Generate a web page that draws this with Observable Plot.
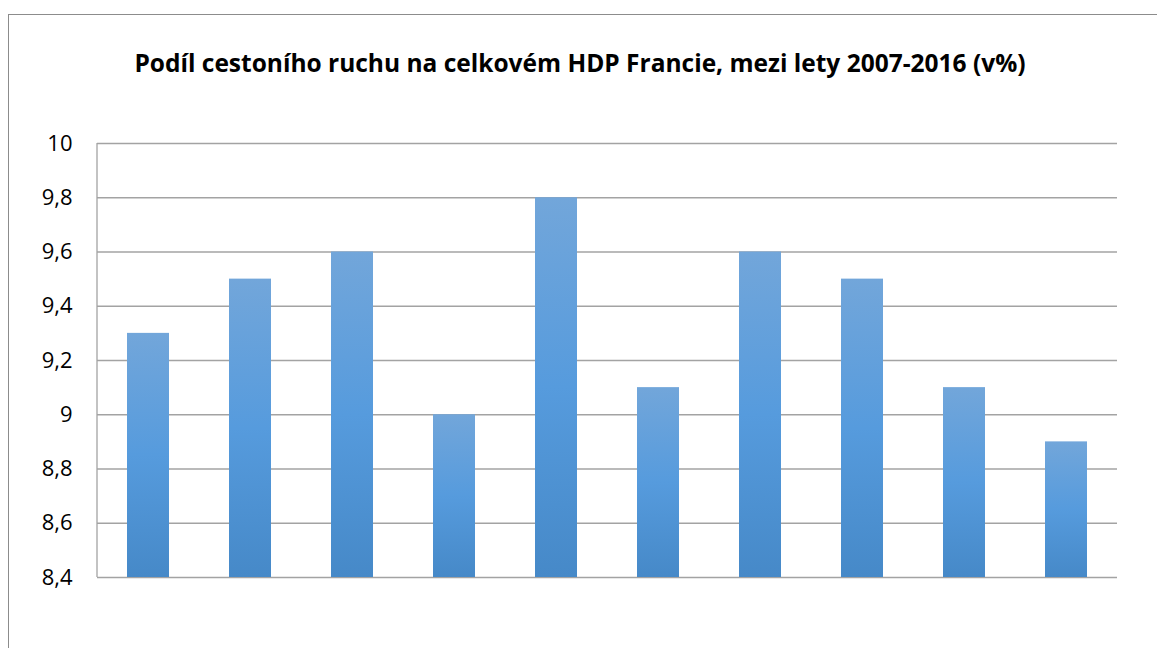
<!DOCTYPE html>
<html>
<head>
<meta charset="utf-8">
<script src="https://cdn.jsdelivr.net/npm/d3@7"></script>
<script src="https://cdn.jsdelivr.net/npm/@observablehq/plot@0.6"></script>
<style>
  html, body { margin: 0; padding: 0; background: #fff; }
  #wrap { position: relative; width: 1157px; height: 648px; overflow: hidden; }
  #frame { position: absolute; left: 8px; top: 14px; width: 1200px; height: 700px; border: 1px solid #8c8c8c; box-sizing: border-box; }
  #title { position: absolute; left: 0; width: 1160px; top: 46px; text-align: center; font-family: "Open Sans", sans-serif; font-weight: bold; font-size: 24.5px; color: #000; }
  #chart { position: absolute; left: 0; top: 0; }
</style>
</head>
<body>
<div id="wrap">
  <div id="frame"></div>
  <div id="title">Podíl cestoního ruchu na celkovém HDP Francie, mezi lety 2007-2016 (v%)</div>
  <div id="chart"></div>
</div>
<script>
const years = ["2007", "2008", "2009", "2010", "2011", "2012", "2013", "2014", "2015", "2016"];
const values = [9.3, 9.5, 9.6, 9.0, 9.8, 9.1, 9.6, 9.5, 9.1, 8.9];
const yTicks = [8.4, 8.6, 8.8, 9.0, 9.2, 9.4, 9.6, 9.8, 10];
const yMin = 8.4, yMax = 10;

const data = years.map((y, i) => ({year: y, value: values[i]}));
const fmt = v => (Math.round(v * 10) / 10).toString().replace(".", ",");
const ns = "http://www.w3.org/2000/svg";

const plot = Plot.plot({
  width: 1157,
  height: 648,
  marginLeft: 97,
  marginRight: 40,
  marginTop: 143,
  marginBottom: 71,
  style: { fontFamily: "'Open Sans', sans-serif", fontSize: "22px", color: "#000", background: "transparent" },
  x: { domain: years, paddingInner: 0.59, paddingOuter: 0.295, axis: null },
  y: { domain: [yMin, yMax], ticks: yTicks, tickFormat: fmt, label: null, tickSize: 0, tickPadding: 25 },
  marks: [
    () => {
      const defs = document.createElementNS(ns, "defs");
      defs.innerHTML = `<linearGradient id="barGrad" x1="0" y1="0" x2="0" y2="1">
        <stop offset="0" stop-color="#72a6da"/>
        <stop offset="0.5" stop-color="#569bdd"/>
        <stop offset="1" stop-color="#4689c8"/>
      </linearGradient>`;
      return defs;
    },
    Plot.ruleY(yTicks, { stroke: "#a3a3a3", strokeWidth: 1.3 }),
    (index, scales, values, dims) => {
      const line = document.createElementNS(ns, "line");
      const x = dims.marginLeft;
      line.setAttribute("x1", x); line.setAttribute("x2", x);
      line.setAttribute("y1", scales.y(yMax)); line.setAttribute("y2", scales.y(yMin));
      line.setAttribute("stroke", "#a3a3a3");
      line.setAttribute("stroke-width", 1.3);
      return line;
    },
    Plot.barY(data, { x: "year", y1: () => yMin, y2: "value", fill: "url(#barGrad)" }),
    Plot.axisY({ ticks: yTicks, tickFormat: fmt, tickSize: 0, tickPadding: 25, label: null, fontSize: 22 })
  ]
});
document.getElementById("chart").appendChild(plot);
</script>
</body>
</html>
